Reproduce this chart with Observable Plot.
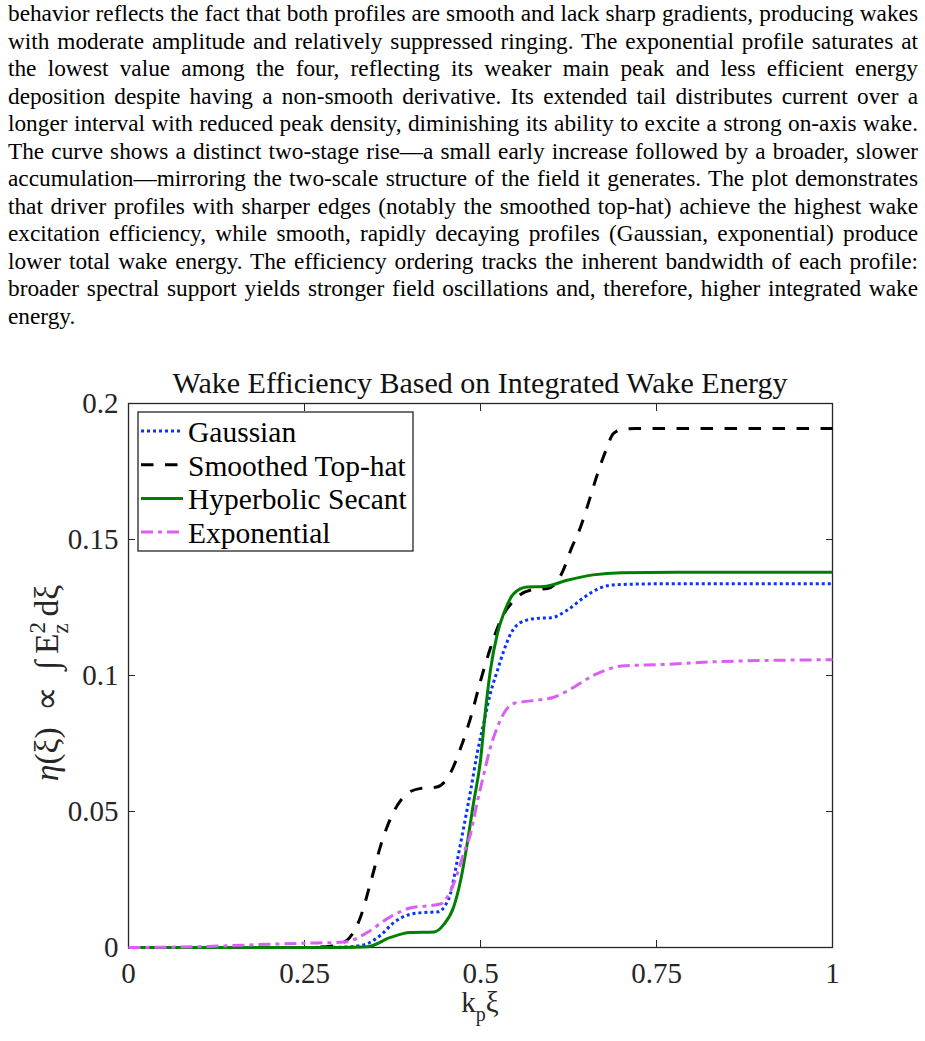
<!DOCTYPE html>
<html>
<head>
<meta charset="utf-8">
<script src="https://cdn.jsdelivr.net/npm/d3@7"></script>
<script src="https://cdn.jsdelivr.net/npm/@observablehq/plot@0.6"></script>
<style>
  html, body { margin: 0; padding: 0; background: #fff; font-family: "Liberation Serif", "Times New Roman", serif; }
  #page { position: relative; width: 925px; height: 1041px; overflow: hidden; }
  #para { position: absolute; left: 8px; top: 0px; width: 910px;
          font-family: "Liberation Serif", "Times New Roman", serif;
          font-size: 24px; line-height: 27.5px; color: #000; }
  #para .ln { display: block; height: 27.5px; white-space: nowrap; }
  #para .ln span { display: inline-block; white-space: nowrap; transform-origin: 0 0; }
  #chart { position: absolute; left: 0; top: 340px; }
</style>
</head>
<body>
<div id="page">
  <div id="para"></div>
  <div id="chart"></div>
</div>
<script>
// ---- Text above the figure (one entry per typeset line) ----
const paragraphLines = [
  "behavior reflects the fact that both profiles are smooth and lack sharp gradients, producing wakes",
  "with moderate amplitude and relatively suppressed ringing. The exponential profile saturates at",
  "the lowest value among the four, reflecting its weaker main peak and less efficient energy",
  "deposition despite having a non-smooth derivative. Its extended tail distributes current over a",
  "longer interval with reduced peak density, diminishing its ability to excite a strong on-axis wake.",
  "The curve shows a distinct two-stage rise\u2014a small early increase followed by a broader, slower",
  "accumulation\u2014mirroring the two-scale structure of the field it generates. The plot demonstrates",
  "that driver profiles with sharper edges (notably the smoothed top-hat) achieve the highest wake",
  "excitation efficiency, while smooth, rapidly decaying profiles (Gaussian, exponential) produce",
  "lower total wake energy. The efficiency ordering tracks the inherent bandwidth of each profile:",
  "broader spectral support yields stronger field oscillations and, therefore, higher integrated wake",
  "energy."
];

// ---- Chart data: k_p xi versus cumulative wake energy eta(xi) ----
const chartTitle = "Wake Efficiency Based on Integrated Wake Energy";
const xTicks = [0, 0.25, 0.5, 0.75, 1];
const yTicks = [0, 0.05, 0.1, 0.15, 0.2];

const seriesNames = ["Gaussian", "Smoothed Top-hat", "Hyperbolic Secant", "Exponential"];

const gaussX = [0, 0.1, 0.2, 0.3, 0.32, 0.34, 0.358, 0.377, 0.4, 0.42, 0.44, 0.45, 0.457, 0.467, 0.476, 0.486, 0.495, 0.505, 0.514, 0.524, 0.533, 0.543, 0.557, 0.58, 0.6, 0.623, 0.647, 0.67, 0.694, 0.75, 0.85, 1];
const gaussY = [0, 0, 0, 0.0001, 0.0004, 0.0015, 0.0045, 0.0092, 0.0122, 0.0129, 0.0131, 0.0155, 0.0195, 0.032, 0.044, 0.0577, 0.071, 0.083, 0.0934, 0.1018, 0.109, 0.1154, 0.1195, 0.121, 0.1212, 0.124, 0.1287, 0.1322, 0.1334, 0.1337, 0.1337, 0.1337];

const topHatX = [0, 0.25, 0.29, 0.31, 0.33, 0.344, 0.36, 0.375, 0.396, 0.415, 0.438, 0.457, 0.472, 0.486, 0.5, 0.514, 0.528, 0.547, 0.575, 0.595, 0.61, 0.618, 0.628, 0.642, 0.654, 0.666, 0.678, 0.689, 0.703, 0.72, 0.85, 1];
const topHatY = [0, 0, 0.0006, 0.0026, 0.0115, 0.024, 0.039, 0.049, 0.0566, 0.0585, 0.059, 0.064, 0.0735, 0.0845, 0.098, 0.11, 0.12, 0.1275, 0.1316, 0.132, 0.135, 0.139, 0.146, 0.1545, 0.164, 0.174, 0.1827, 0.189, 0.1905, 0.1908, 0.1908, 0.1908];

const sechX = [0, 0.3, 0.34, 0.372, 0.4, 0.434, 0.448, 0.462, 0.472, 0.481, 0.49, 0.5, 0.507, 0.514, 0.524, 0.533, 0.547, 0.566, 0.59, 0.623, 0.66, 0.7, 0.8, 1];
const sechY = [0, 0, 0.0003, 0.0037, 0.0055, 0.0057, 0.0085, 0.015, 0.025, 0.038, 0.053, 0.0688, 0.087, 0.1018, 0.1154, 0.1228, 0.13, 0.1325, 0.1327, 0.135, 0.137, 0.1378, 0.138, 0.138];

const expX = [0, 0.1, 0.2, 0.25, 0.3, 0.31, 0.339, 0.37, 0.4, 0.424, 0.443, 0.455, 0.467, 0.476, 0.486, 0.495, 0.505, 0.514, 0.524, 0.533, 0.547, 0.576, 0.604, 0.632, 0.66, 0.685, 0.7, 0.756, 0.827, 0.9, 1];
const expY = [0, 0.0003, 0.0012, 0.0016, 0.0019, 0.0021, 0.0055, 0.011, 0.0145, 0.0153, 0.016, 0.0195, 0.027, 0.0345, 0.042, 0.053, 0.064, 0.0735, 0.081, 0.086, 0.0897, 0.0908, 0.092, 0.0956, 0.1, 0.1026, 0.1035, 0.104, 0.105, 0.1055, 0.1058];

// ---- Styling ----
const FONT = '"Liberation Serif", "Times New Roman", serif';
const AXIS_COLOR = "#262626";
const seriesStyles = [
  { stroke: "#0a32ff", dash: "3,3",        width: 3 },
  { stroke: "#000000", dash: "12.5,11.5",  width: 3 },
  { stroke: "#008000", dash: null,         width: 3 },
  { stroke: "#d95ff5", dash: "12,5,4,5",   width: 3 }
];
const seriesXY = [[gaussX, gaussY], [topHatX, topHatY], [sechX, sechY], [expX, expY]];

// ---- Paragraph: slightly condensed type, each line justified to the measure ----
const para = document.getElementById("para");
const measure = 910;
const spans = paragraphLines.map(txt => {
  const ln = document.createElement("div");
  ln.className = "ln";
  const sp = document.createElement("span");
  sp.textContent = txt;
  ln.appendChild(sp);
  para.appendChild(ln);
  return sp;
});
const naturals = spans.map(sp => sp.getBoundingClientRect().width);
const squeeze = Math.min(1, (measure - 4) / d3.max(naturals.slice(0, -1)));
spans.forEach((sp, i) => {
  sp.style.transform = `scaleX(${squeeze})`;
  if (i === spans.length - 1) return;
  const gaps = (paragraphLines[i].match(/ /g) || []).length;
  sp.style.wordSpacing = ((measure / squeeze - naturals[i]) / gaps) + "px";
});

// ---- Chart ----
const W = 925, H = 701;
const M = { top: 63, right: 93, bottom: 94, left: 128 };

const lineMarks = seriesXY.map(([xs, ys], k) => {
  const data = xs.map((x, i) => ({ x, y: ys[i] }));
  const s = seriesStyles[k];
  return Plot.line(data, {
    x: "x", y: "y", stroke: s.stroke, strokeWidth: s.width,
    strokeDasharray: s.dash ?? undefined, curve: "monotone-x",
    strokeLinecap: "butt"
  });
});

const svg = Plot.plot({
  width: W, height: H,
  marginTop: M.top, marginRight: M.right, marginBottom: M.bottom, marginLeft: M.left,
  style: { fontFamily: FONT, background: "#fff", overflow: "visible" },
  x: { domain: [0, 1] },
  y: { domain: [0, 0.2] },
  marks: [
    Plot.frame({ stroke: AXIS_COLOR, strokeWidth: 1.3 }),
    // inward ticks on all four sides
    Plot.axisX({ anchor: "bottom", ticks: xTicks, tickSize: 7, dy: -7, text: null, label: null, stroke: AXIS_COLOR }),
    Plot.axisX({ anchor: "top", ticks: xTicks, tickSize: 7, dy: 7, text: null, label: null, stroke: AXIS_COLOR }),
    Plot.axisY({ anchor: "left", ticks: yTicks, tickSize: 7, dx: 7, text: null, label: null, stroke: AXIS_COLOR }),
    Plot.axisY({ anchor: "right", ticks: yTicks, tickSize: 7, dx: -7, text: null, label: null, stroke: AXIS_COLOR }),
    // tick labels
    Plot.axisX({ anchor: "bottom", ticks: xTicks, tickSize: 0, tickPadding: 15, tickFormat: d => String(d),
                 fontSize: 29, label: null, fill: AXIS_COLOR }),
    Plot.axisY({ anchor: "left", ticks: yTicks, tickSize: 0, tickPadding: 10, tickFormat: d => String(d),
                 fontSize: 29, label: null, fill: AXIS_COLOR }),
    ...lineMarks
  ]
});
document.getElementById("chart").appendChild(svg);

const xs = svg.scale("x"), ys = svg.scale("y");
const root = d3.select(svg);
const frameL = xs.apply(0), frameR = xs.apply(1), frameT = ys.apply(0.2), frameB = ys.apply(0);

// title
root.append("text")
  .attr("x", (frameL + frameR) / 2).attr("y", frameT - 10)
  .attr("text-anchor", "middle").attr("font-size", 30).attr("fill", "#111")
  .attr("font-family", FONT)
  .text(chartTitle);

// x label: k_p xi
const xl = root.append("text")
  .attr("x", (frameL + frameR) / 2).attr("y", frameB + 65)
  .attr("text-anchor", "middle").attr("font-size", 29).attr("fill", AXIS_COLOR)
  .attr("font-family", FONT);
xl.append("tspan").text("k");
xl.append("tspan").attr("font-size", 20).attr("dy", 9).text("p");
xl.append("tspan").attr("dy", -9).text("\u03BE");

// y label: eta(xi) ∝ ∫ E_z^2 dxi
const yl = root.append("text")
  .attr("transform", `translate(58,${(frameT + frameB) / 2 + 8}) rotate(-90)`)
  .attr("text-anchor", "middle").attr("font-size", 33.5).attr("fill", AXIS_COLOR)
  .attr("font-family", FONT);
yl.append("tspan").attr("font-style", "italic").text("\u03B7");
yl.append("tspan").text("(\u03BE)\u2002\u221D\u2002\u222B\u2009E");
yl.append("tspan").attr("font-size", 23).attr("dy", -13.5).text("2");
yl.append("tspan").attr("font-size", 23).attr("dx", -11.5).attr("dy", 23).text("z");
yl.append("tspan").attr("dy", -9.5).text("\u2009d\u03BE");

// legend
const lg = root.append("g").attr("font-family", FONT).attr("text-anchor", "start");
const lgX = frameL + 10, lgY = frameT + 9, lgW = 275, lgH = 139;
lg.append("rect").attr("x", lgX).attr("y", lgY).attr("width", lgW).attr("height", lgH)
  .attr("fill", "#fff").attr("stroke", AXIS_COLOR).attr("stroke-width", 1.3);
seriesNames.forEach((name, k) => {
  const base = lgY + 30 + k * 33.7;
  const s = seriesStyles[k];
  lg.append("line")
    .attr("x1", lgX + 3).attr("x2", lgX + 45)
    .attr("y1", base - 11).attr("y2", base - 11)
    .attr("stroke", s.stroke).attr("stroke-width", s.width)
    .attr("stroke-dasharray", s.dash);
  lg.append("text")
    .attr("x", lgX + 50).attr("y", base)
    .attr("text-anchor", "start")
    .attr("font-size", 29.5).attr("fill", "#000")
    .text(name);
});
</script>
</body>
</html>
